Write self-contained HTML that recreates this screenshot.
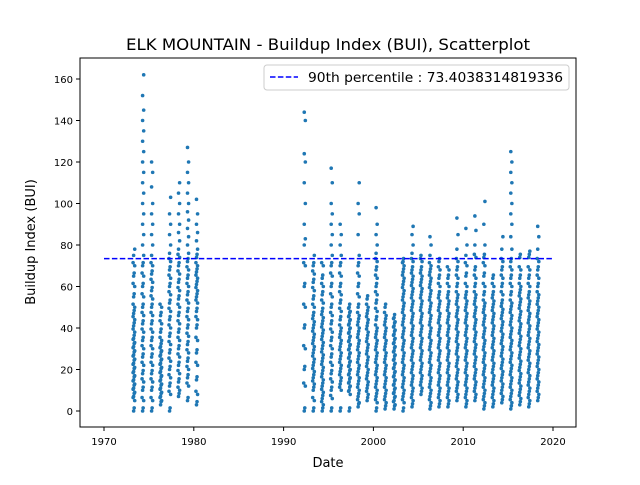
<!DOCTYPE html>
<html><head><meta charset="utf-8"><style>
body{margin:0;background:#fff;}
svg text{font-family:"DejaVu Sans","Liberation Sans",sans-serif;}
</style></head><body>
<svg id="chart" width="640" height="480" xmlns="http://www.w3.org/2000/svg">
<rect width="640" height="480" fill="#fff"/>
<g id="points"></g>
<line id="p90" stroke="#0000ff" stroke-width="1.5" stroke-dasharray="5.5,2.4"/>
<rect x="80" y="58" width="496" height="369" fill="none" stroke="#000" stroke-width="1"/>
<g id="xticks"></g>
<g id="yticks"></g>
<text x="126" y="50" font-size="16" textLength="404" lengthAdjust="spacingAndGlyphs">ELK MOUNTAIN - Buildup Index (BUI), Scatterplot</text>
<text x="328" y="467" font-size="13" text-anchor="middle">Date</text>
<text x="35" y="242" font-size="13" text-anchor="middle" transform="rotate(-90 35 242)">Buildup Index (BUI)</text>
<g>
<rect x="264" y="65" width="305" height="25" rx="3" fill="#fff" stroke="#ccc"/>
<line x1="270" y1="77" x2="298" y2="77" stroke="#0000ff" stroke-width="1.5" stroke-dasharray="5.5,2.4"/>
<text x="308" y="82" font-size="13" textLength="255" lengthAdjust="spacingAndGlyphs">90th percentile : 73.4038314819336</text>
</g>
</svg>
<script>
const years=[1973,1974,1975,1976,1977,1978,1979,1980,1992,1993,1994,1995,1996,1997,1998,1999,2000,2001,2002,2003,2004,2005,2006,2007,2008,2009,2010,2011,2012,2013,2014,2015,2016,2017,2018];
const seasonValues=[
"0 5 7 9 11 13 15 17 19 21 23 25 27 29 31 33 35 38 41 44 47 50 55 60 65 70 75 78",
"0 5 10 14 18 22 26 30 34 38 42 46 50 55 60 65 70 75 80 85 90 95 100 105 110 115 120 125 130 135 140 145 152 162",
"0 5 10 14 18 22 26 30 34 38 42 46 50 54 58 62 66 70 75 80 85 90 95 100 108 115 120",
"3 5 7 9 11 13 15 17 19 21 23 25 27 29 31 34 38 42 46 50",
"0 8 12 16 20 24 28 32 36 40 44 48 52 56 60 64 68 72 76 80 85 90 95 103",
"7 10 14 18 22 26 30 34 38 42 46 50 54 58 62 66 70 74 78 82 86 90 95 100 105 110",
"5 12 16 20 24 28 32 36 40 44 48 52 56 60 64 68 72 76 80 84 88 92 96 100 105 110 115 120 127",
"3 8 15 22 28 34 40 44 48 52 55 58 61 64 67 70 74 78 82 86 90 95 102",
"0 12 20 30 40 50 60 70 80 83 90 100 110 120 124 140 144",
"0 5 10 13 16 19 22 25 28 31 34 37 40 43 46 50 54 58 62 66 70 75",
"0 3 6 9 12 15 18 21 24 27 30 33 36 39 42 45 48 52 56 60 64 70",
"0 6 10 14 18 22 26 30 34 38 42 46 50 55 60 65 70 75 80 85 90 95 100 110 117",
"0 10 13 16 19 22 25 28 31 34 37 40 44 48 52 56 60 65 70 75 80 85 90",
"0 8 10 12 14 16 18 20 22 24 26 28 30 32 34 36 38 40 42 44 46 48 50",
"2 4 7 10 13 16 19 22 25 28 31 34 37 40 43 46 50 55 60 65 70 75 85 95 100 110",
"5 8 11 14 17 20 23 26 29 32 35 38 41 44 47 50 54",
"0 4 7 10 13 16 19 22 25 28 31 34 37 40 44 48 52 56 60 64 68 72 76 80 85 90 98",
"1 4 7 10 13 16 19 22 25 28 31 34 37 40 43 46 50",
"1 3 5 7 9 11 13 15 17 19 21 23 25 27 29 31 33 35 37 39 41 43 45",
"0 4 7 10 13 16 19 22 25 28 31 34 37 40 43 46 49 52 55 58 61 64 67 70 72",
"2 5 8 11 14 17 20 23 26 29 32 35 38 41 44 47 50 53 56 59 62 65 68 72 76 80 85 89",
"8 11 14 17 20 23 26 29 32 35 38 41 44 47 50 53 56 59 62 65 68 72 75",
"1 4 7 10 13 16 19 22 25 28 31 34 37 40 43 46 49 52 55 58 61 64 67 70 75 80 84",
"2 5 8 11 14 17 20 23 26 29 32 35 38 41 44 47 50 53 56 60 64 68 72",
"2 5 8 11 14 17 20 23 26 29 32 35 38 41 44 47 50 53 56 60 64 68",
"5 8 11 14 17 20 23 26 29 32 35 38 41 44 47 50 53 56 60 64 68 72 78 85 93",
"2 5 8 11 14 17 20 23 26 29 32 35 38 41 44 47 50 53 56 60 65 70 75 80 88",
"5 8 11 14 17 20 23 26 29 32 35 38 41 44 47 50 53 56 60 64 68 74 80 87 94",
"1 4 7 10 13 16 19 22 25 28 31 34 37 40 43 46 49 52 56 60 65 70 74 80 90 101",
"2 5 8 11 14 17 20 23 26 29 32 35 38 41 44 47 50 53 56 60 64",
"4 7 10 13 16 19 22 25 28 31 34 37 40 43 46 49 52 56 60 64 68 72 78 84",
"1 4 7 10 13 16 19 22 25 28 31 34 37 40 43 46 49 52 56 60 64 68 72 78 84 90 95 100 105 110 115 120 125",
"3 6 9 12 15 18 21 24 27 30 33 36 39 42 45 48 51 54 57 60 64 68 74",
"2 5 8 11 14 17 20 23 26 29 32 35 38 41 44 47 50 53 56 60 64 68 74 77",
"5 8 11 14 17 20 23 26 29 32 35 38 41 44 47 50 53 56 60 64 68 72 78 84 89"
];
const p90=73.4038314819336;
const xTicks=[1970,1980,1990,2000,2010,2020];
const yTicks=[0,20,40,60,80,100,120,140,160];
const NS="http://www.w3.org/2000/svg";
const X=v=>104+(v-1970)*(553-104)/50;
const Y=v=>411-v*(411-79)/160;
const pts=document.getElementById('points');
years.forEach((yr,k)=>{
  seasonValues[k].split(' ').map(Number).forEach((v,i)=>{
    const c=document.createElementNS(NS,'circle');
    
    
    c.setAttribute('cx',X(yr+0.3+(i%2)*0.12));
    c.setAttribute('cy',Y(v));
    c.setAttribute('r',1.8);
    c.setAttribute('fill','#1f77b4');
    pts.appendChild(c);
    if(v<75){
      const c2=document.createElementNS(NS,'circle');
      
      
      c2.setAttribute('cx',X(yr+0.36-(i%2)*0.12));
      c2.setAttribute('cy',Y(v+1.5));
      c2.setAttribute('r',1.8);
      c2.setAttribute('fill','#1f77b4');
      pts.appendChild(c2);
    }
  });
});
const pl=document.getElementById('p90');
pl.setAttribute('x1',X(1970));pl.setAttribute('x2',X(2020));
pl.setAttribute('y1',Y(p90));pl.setAttribute('y2',Y(p90));
const xg=document.getElementById('xticks');
xTicks.forEach(t=>{
  const l=document.createElementNS(NS,'line');
  
  
  l.setAttribute('x1',X(t));l.setAttribute('x2',X(t));l.setAttribute('y1',427);l.setAttribute('y2',431);l.setAttribute('stroke','#000');
  xg.appendChild(l);
  const s=document.createElementNS(NS,'text');
  
  
  s.setAttribute('x',X(t));s.setAttribute('y',445);s.setAttribute('font-size','10');s.setAttribute('text-anchor','middle');
  s.textContent=t;xg.appendChild(s);
});
const yg=document.getElementById('yticks');
yTicks.forEach(t=>{
  const l=document.createElementNS(NS,'line');
  
  
  l.setAttribute('x1',76);l.setAttribute('x2',80);l.setAttribute('y1',Y(t));l.setAttribute('y2',Y(t));l.setAttribute('stroke','#000');
  yg.appendChild(l);
  const s=document.createElementNS(NS,'text');
  
  
  s.setAttribute('x',73);s.setAttribute('y',Y(t)+4);s.setAttribute('font-size','10');s.setAttribute('text-anchor','end');
  s.textContent=t;yg.appendChild(s);
});
</script>
</body></html>
